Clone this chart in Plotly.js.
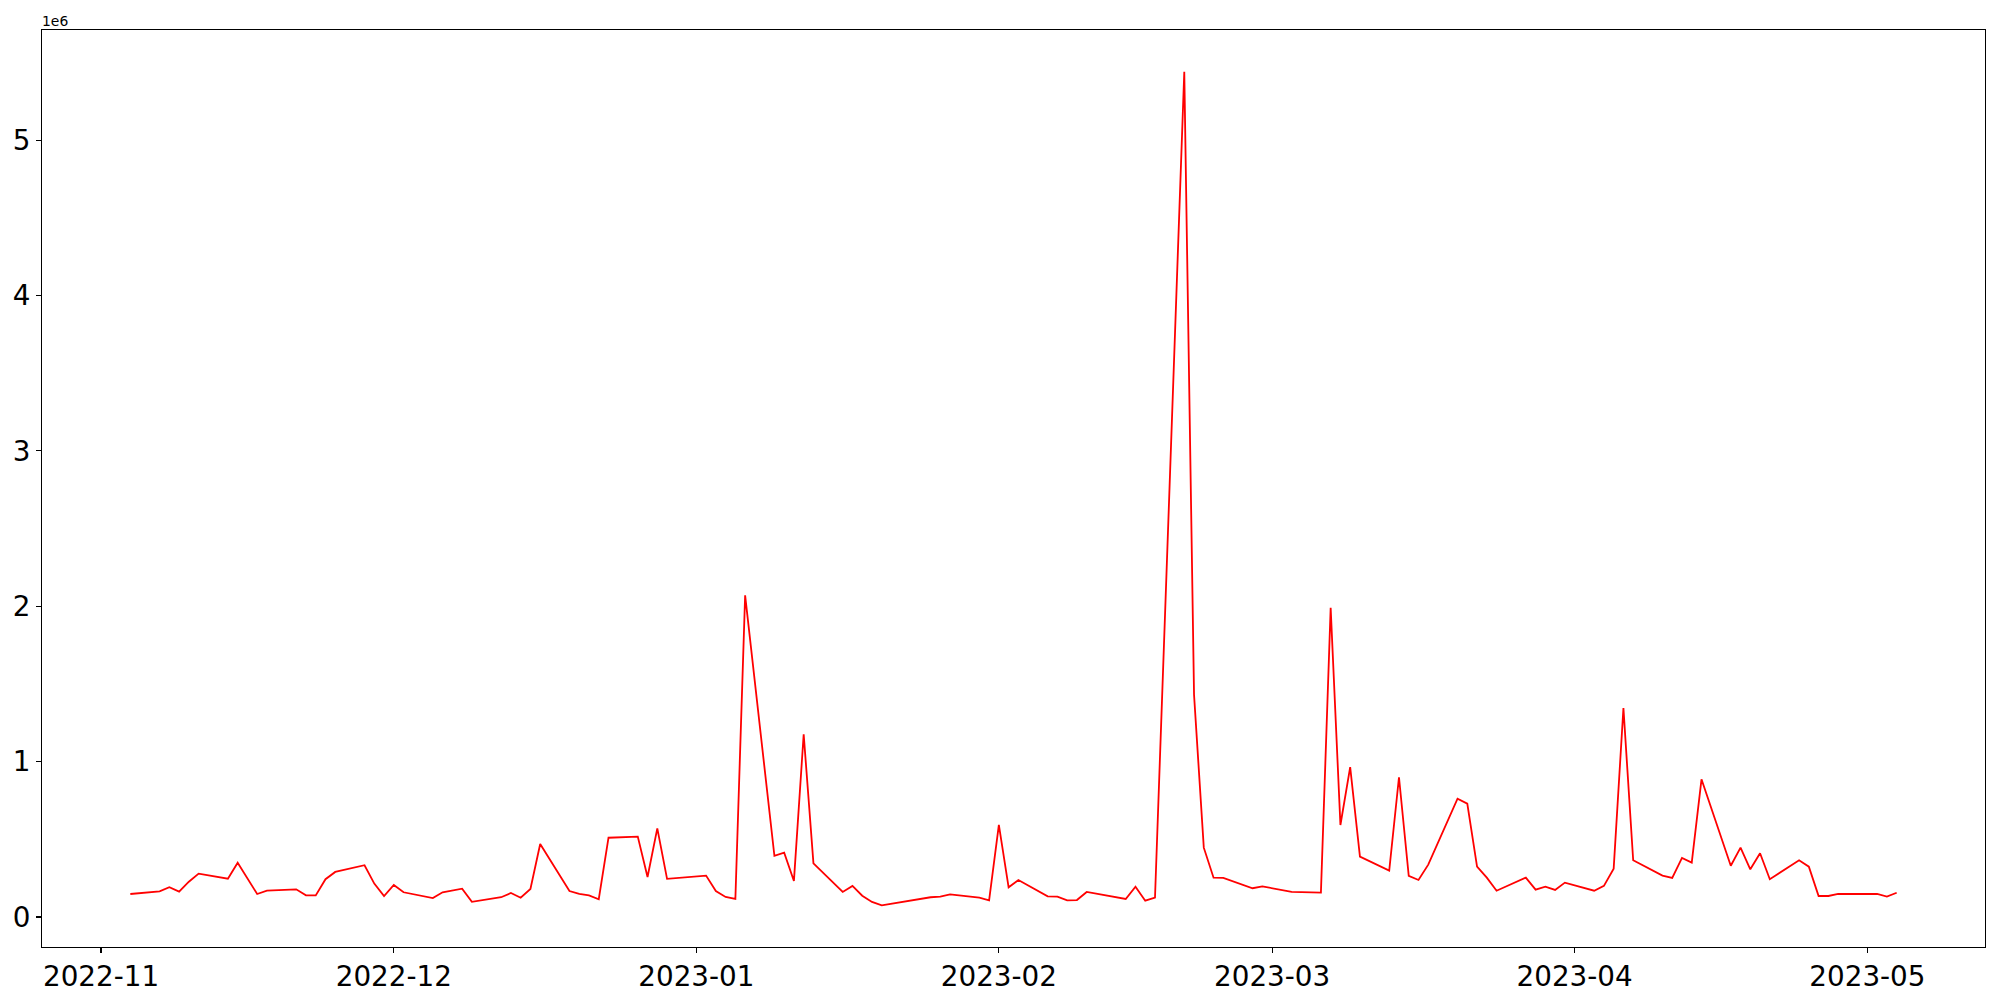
<!DOCTYPE html>
<html>
<head>
<meta charset="utf-8">
<script src="https://cdn.plot.ly/plotly-3.0.1.min.js"></script>
<style>html,body{margin:0;padding:0;background:#fff;}#chart{width:2000px;height:1000px;}</style>
</head>
<body>
<div id="chart"></div>
<script>
const dates = [
"2022-11-04","2022-11-07","2022-11-08","2022-11-09","2022-11-10","2022-11-11",
"2022-11-14","2022-11-15","2022-11-17","2022-11-18",
"2022-11-21","2022-11-22","2022-11-23","2022-11-24","2022-11-25",
"2022-11-28","2022-11-29","2022-11-30","2022-12-01","2022-12-02",
"2022-12-05","2022-12-06","2022-12-08","2022-12-09",
"2022-12-12","2022-12-13","2022-12-14","2022-12-15","2022-12-16",
"2022-12-19","2022-12-20","2022-12-21","2022-12-22","2022-12-23",
"2022-12-26","2022-12-27","2022-12-28","2022-12-29",
"2023-01-02","2023-01-03","2023-01-04","2023-01-05","2023-01-06",
"2023-01-09","2023-01-10","2023-01-11","2023-01-12","2023-01-13",
"2023-01-16","2023-01-17","2023-01-18","2023-01-19","2023-01-20",
"2023-01-25","2023-01-26","2023-01-27",
"2023-01-30","2023-01-31","2023-02-01","2023-02-02","2023-02-03",
"2023-02-06","2023-02-07","2023-02-08","2023-02-09","2023-02-10",
"2023-02-14","2023-02-15","2023-02-16","2023-02-17",
"2023-02-20","2023-02-21","2023-02-22","2023-02-23","2023-02-24",
"2023-02-27","2023-02-28","2023-03-03",
"2023-03-06","2023-03-07","2023-03-08","2023-03-09","2023-03-10",
"2023-03-13","2023-03-14","2023-03-15","2023-03-16","2023-03-17",
"2023-03-20","2023-03-21","2023-03-22","2023-03-23","2023-03-24",
"2023-03-27","2023-03-28","2023-03-29","2023-03-30","2023-03-31",
"2023-04-03","2023-04-04","2023-04-05","2023-04-06","2023-04-07",
"2023-04-10","2023-04-11","2023-04-12","2023-04-13","2023-04-14",
"2023-04-17","2023-04-18","2023-04-19","2023-04-20","2023-04-21",
"2023-04-24","2023-04-25","2023-04-26","2023-04-27","2023-04-28",
"2023-05-01","2023-05-02","2023-05-03","2023-05-04"
];
const values = [
148000,165000,191000,163000,227000,279000,
246000,349000,148000,169000,
178000,139000,139000,243000,290000,
333000,215000,135000,206000,159000,
122000,159000,182000,97000,
127000,154000,124000,180000,470000,
167000,148000,139000,114000,510000,
517000,257000,570000,245000,
266000,167000,129000,116000,2070000,
393000,414000,232000,1176000,345000,
161000,200000,137000,97000,75000,
127000,131000,146000,
124000,107000,592000,191000,238000,
133000,131000,107000,109000,161000,
116000,195000,105000,124000,
5440000,1430000,446000,253000,251000,
185000,197000,161000,
157000,1990000,592000,965000,388000,
298000,899000,264000,238000,337000,
761000,729000,324000,253000,169000,
253000,176000,195000,174000,221000,
169000,200000,311000,1345000,365000,
266000,251000,380000,350000,886000,
330000,446000,307000,410000,243000,
365000,324000,135000,135000,148000,
148000,148000,131000,156000
];
const yTickVals = [0,1000000,2000000,3000000,4000000,5000000];
const yTickText = ["0","1","2","3","4","5"];
const offsetLabel = "1e6";

// matplotlib-like 5% margins
const tms = dates.map(d => new Date(d + "T00:00:00Z").getTime());
const tmin = Math.min(...tms), tmax = Math.max(...tms);
const tpad = (tmax - tmin) * 0.05;
const iso = t => new Date(t).toISOString().replace("T"," ").replace("Z","");
const vmin = Math.min(...values), vmax = Math.max(...values);
const vpad = (vmax - vmin) * 0.05;

const fontFam = "DejaVu Sans, sans-serif";
const axisCommon = {
  showline: true, mirror: true, linecolor: "#000", linewidth: 1.1,
  ticks: "outside", ticklen: 5, tickwidth: 1.1, tickcolor: "#000",
  showgrid: false, zeroline: false,
  tickfont: {family: fontFam, size: 27.8, color: "#000"}
};

const trace = {
  x: dates, y: values, type: "scatter", mode: "lines",
  line: {color: "red", width: 1.8},
  hoverinfo: "x+y"
};

const layout = {
  width: 2000, height: 1000,
  margin: {l: 42, r: 15, t: 30, b: 53},
  paper_bgcolor: "#fff", plot_bgcolor: "#fff",
  showlegend: false,
  xaxis: Object.assign({}, axisCommon, {
    type: "date",
    range: [iso(tmin - tpad), iso(tmax + tpad)],
    tick0: "2022-11-01", dtick: "M1", tickformat: "%Y-%m"
  }),
  yaxis: Object.assign({}, axisCommon, {
    range: [vmin - vpad, vmax + vpad],
    tickmode: "array", tickvals: yTickVals, ticktext: yTickText
  }),
  annotations: [{
    xref: "paper", yref: "paper", x: 0, y: 1,
    xanchor: "left", yanchor: "bottom", showarrow: false,
    text: offsetLabel, font: {family: fontFam, size: 13.9, color: "#000"},
    xshift: -2, yshift: -1
  }]
};

Plotly.newPlot("chart", [trace], layout, {displayModeBar: false, staticPlot: true});
</script>
</body>
</html>
